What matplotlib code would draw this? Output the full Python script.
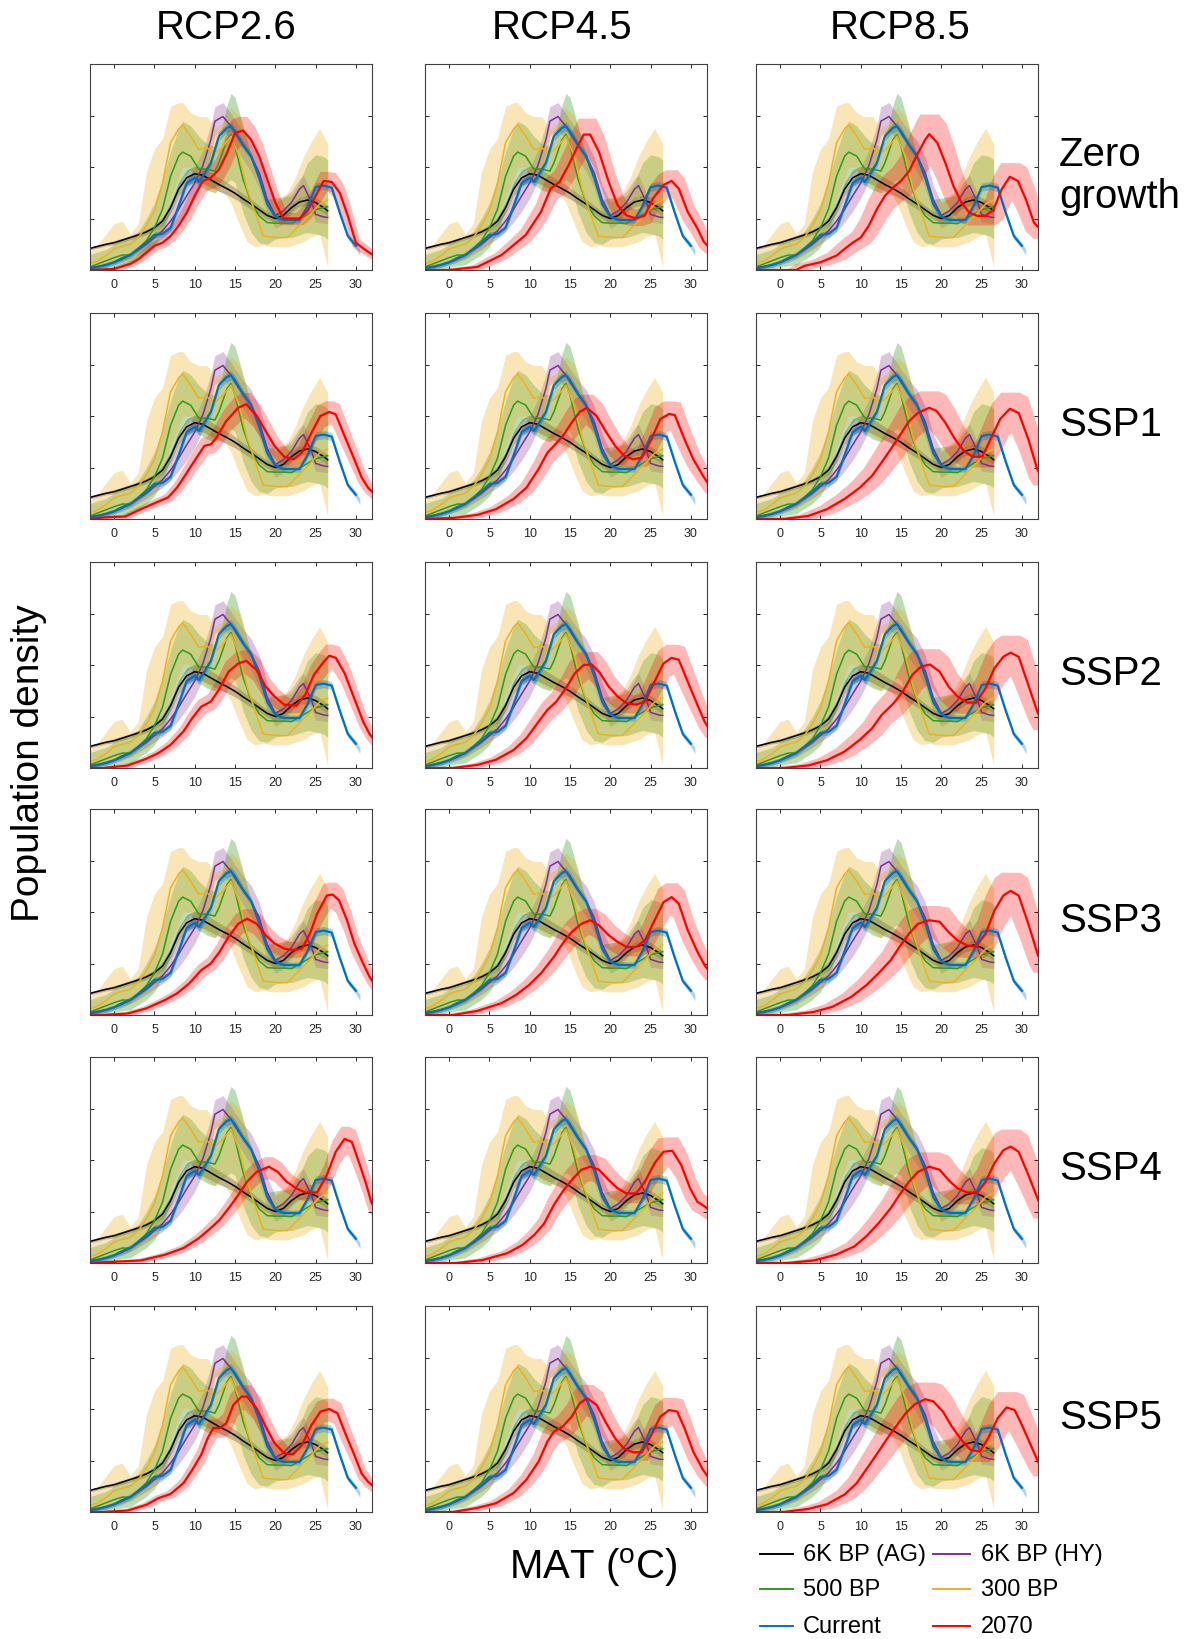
import numpy as np
import matplotlib
matplotlib.use("Agg")
import matplotlib.pyplot as plt
from matplotlib.lines import Line2D

plt.rcParams['font.family'] = ['Liberation Sans', 'DejaVu Sans']
plt.rcParams['mathtext.fontset'] = 'custom'
plt.rcParams['mathtext.rm'] = 'Liberation Sans'

# ---------------- data ----------------
rcps = ["RCP2.6", "RCP4.5", "RCP8.5"]
scenarios = ["Zero\ngrowth", "SSP1", "SSP2", "SSP3", "SSP4", "SSP5"]
xticks = [0, 5, 10, 15, 20, 25, 30]
yticks = [1, 2, 3]

# 6K BP (AG)
ag_x = [-3,-2,-1,0,1,2,3,4,5,6,7,8,9,10,11,12,13,14,15,16,17,18,19,20,21,22,23,24,25,26,26.5]
ag_y = [0.42,0.46,0.50,0.53,0.58,0.63,0.68,0.74,0.82,0.95,1.21,1.57,1.79,1.87,1.84,1.75,1.66,1.58,1.49,1.38,1.28,1.17,1.06,1.00,1.06,1.21,1.32,1.36,1.31,1.21,1.15]
ag_err = [0.03,0.03,0.03,0.04,0.04,0.04,0.05,0.05,0.06,0.08,0.10,0.13,0.15,0.15,0.15,0.14,0.13,0.12,0.11,0.10,0.10,0.08,0.08,0.08,0.08,0.08,0.09,0.10,0.10,0.10,0.10]

# 6K BP (HY)
hy_x = [-3,-2,-1,0,1,2,3,4,5,6,7,8,9,10,11,12,12.5,13.5,14.5,15,16,17,18,19,20,21,22,23,23.5,24.5,25,26,26.5]
hy_y = [0.05,0.07,0.10,0.15,0.21,0.29,0.39,0.50,0.63,0.76,0.95,1.18,1.44,1.69,2.02,2.53,2.89,2.98,2.79,2.66,2.42,2.21,1.89,1.37,1.06,1.15,1.31,1.57,1.64,1.31,1.08,1.03,1.02]
hy_err = [0.04,0.04,0.05,0.05,0.06,0.07,0.08,0.10,0.12,0.15,0.20,0.25,0.30,0.30,0.30,0.28,0.28,0.27,0.25,0.25,0.28,0.30,0.30,0.28,0.25,0.25,0.22,0.20,0.20,0.18,0.15,0.12,0.12]

# 500 BP
bp500_x = [-3,-2,-1,0,1,2,3,4,5,6,7,8,8.5,9.5,10.5,11.5,12.5,13,14,14.5,15,16,17,18,19,20,21,22,23,24,25,26,26.5]
bp500_y = [0.06,0.12,0.18,0.24,0.29,0.29,0.42,0.57,0.82,1.18,1.82,2.21,2.29,2.21,1.96,1.96,1.92,2.08,2.53,2.63,2.40,1.76,1.31,1.05,0.92,0.91,0.91,0.90,0.99,1.08,1.17,1.21,1.23]
bp500_lo = [0.0,0.0,0.02,0.05,0.08,0.10,0.20,0.30,0.45,0.73,1.18,1.60,1.80,1.95,1.65,1.55,1.50,1.60,1.70,1.75,1.70,1.11,0.73,0.53,0.50,0.60,0.63,0.63,0.68,0.73,0.70,0.66,0.60]
bp500_hi = [0.30,0.35,0.40,0.50,0.60,0.60,0.75,1.00,1.30,1.75,2.30,2.75,2.89,2.80,2.60,2.45,2.40,2.50,3.20,3.43,3.35,2.80,2.20,1.70,1.37,1.40,1.42,1.44,1.70,2.08,2.24,2.20,2.14]

# 300 BP
bp300_x = [-3,-2,-1,0,1,2,3,4,5,6,7,8,8.5,9.5,10.5,11.5,12.5,13.5,14.5,15.5,16.5,17.5,18.5,19.5,20.5,21.5,22.5,23.5,24.5,25.5,26.5]
bp300_y = [0.12,0.18,0.28,0.41,0.46,0.50,0.63,0.86,1.15,1.69,2.47,2.74,2.82,2.60,2.34,2.37,2.26,2.40,2.60,2.21,1.57,1.11,0.66,0.64,0.63,0.63,0.79,0.95,1.11,1.28,1.36]
bp300_lo = [0.0,0.02,0.08,0.15,0.18,0.20,0.30,0.42,0.55,0.90,1.40,1.80,2.00,2.00,1.75,1.60,1.50,1.55,1.30,0.90,0.55,0.45,0.48,0.45,0.45,0.45,0.50,0.55,0.65,0.70,0.05]
bp300_hi = [0.35,0.50,0.70,0.90,0.95,0.70,0.90,1.90,2.35,2.55,3.18,3.25,3.25,3.05,2.98,2.98,2.75,2.85,3.15,3.00,2.50,2.00,1.40,1.30,1.40,1.50,1.80,2.20,2.50,2.75,2.45]

# Current
cur_x = [-3,-2,-1,0,1,2,3,4,5,6,7,8,9,10,10.5,11,12,13,14,14.5,15,16,17,18,19,20,21,22,23,24,25,26,27,28,29,30,30.5]
cur_y = [0.03,0.06,0.10,0.15,0.23,0.29,0.41,0.53,0.68,0.70,0.82,1.24,1.69,1.79,1.71,1.82,2.08,2.60,2.76,2.79,2.69,2.43,2.21,1.79,1.28,1.04,0.97,0.97,0.97,1.24,1.61,1.64,1.60,1.11,0.66,0.47,0.34]
cur_err = [0.03,0.03,0.04,0.04,0.05,0.05,0.05,0.06,0.06,0.06,0.07,0.08,0.08,0.08,0.08,0.08,0.08,0.09,0.09,0.09,0.09,0.08,0.08,0.08,0.07,0.06,0.06,0.06,0.06,0.07,0.08,0.08,0.08,0.07,0.06,0.06,0.06]

# 2070 (one curve per RCP column)
red_zero_x = [[-3,0,2,3,4,5,6,7,8,9,10,11,12,13,14,15,16,17,18,19,20,21,22,23,24,25,26,27,28,29,30,31,32.5],
              [-3,0,3.5,6.5,9.5,11.4,12.6,13.7,14.8,16,16.7,17.5,18.6,19.8,20.9,22,23.2,24.3,25.3,26.6,27.6,28.5,29.6,30.8,31.6,32.5],
              [-3,2,3,5,7,8,9,10,11,12,13,14,15,16,17,18,18.5,19.5,20.5,21.5,22.5,23.5,24.5,25.5,26.5,27.5,28.5,29.5,30.5,31.5,32.5]]
red_zero_y = [[0,0.02,0.12,0.21,0.34,0.47,0.53,0.66,0.86,1.11,1.44,1.73,1.79,1.95,2.27,2.66,2.71,2.53,2.21,1.76,1.31,1.0,1.0,1.0,1.15,1.44,1.73,1.71,1.5,1.05,0.53,0.41,0.25],
              [0,0,0.06,0.29,0.68,1.13,1.58,1.71,2.03,2.42,2.63,2.63,2.29,1.71,1.26,1.06,1.0,1.06,1.39,1.65,1.73,1.58,1.13,0.81,0.55,0.4],
              [0,0,0.08,0.15,0.28,0.41,0.53,0.63,0.86,1.18,1.44,1.6,1.73,1.92,2.24,2.53,2.64,2.47,2.08,1.63,1.31,1.11,1.05,1.05,1.18,1.57,1.81,1.73,1.37,0.92,0.75]]

red_ssp1_x = [[-3,-1.3,1.4,3.3,5.2,6.7,7.8,8.9,10.1,11.2,12,12.7,13.9,15.4,16.4,17.7,18.8,19.9,21.1,22.3,23.3,24.5,25.6,26.7,27.5,28.6,29.8,30.7,31.5,32.5],
              [-3,0.5,3.5,5.8,8,9.6,11.1,12.2,13,14.1,15.2,16.2,17.1,18.3,19.4,20.6,21.7,22.8,23.9,25.1,26.2,27.3,28,29.2,30.3,31.5,32.5],
              [-3,0.5,3.5,5.8,8,9.9,11.4,12.6,13.7,14.8,16,17.1,18.5,19.4,20.5,21.7,22.8,23.9,25.1,26.2,27.3,28.5,29.6,30.8,31.9,32.5]]
red_ssp1_y = [[0,0.03,0.05,0.19,0.32,0.42,0.61,0.87,1.16,1.42,1.45,1.58,1.9,2.16,2.23,2.0,1.71,1.42,1.21,1.16,1.29,1.68,2.0,2.08,2.03,1.61,1.16,0.81,0.61,0.45],
              [0,0.02,0.08,0.19,0.39,0.61,0.97,1.29,1.42,1.61,1.87,2.08,2.16,2.0,1.71,1.42,1.23,1.16,1.19,1.55,1.94,2.04,2.02,1.55,1.16,0.84,0.6],
              [0,0,0.06,0.19,0.39,0.61,0.84,1.1,1.35,1.61,1.9,2.06,2.16,2.1,1.87,1.55,1.32,1.21,1.21,1.58,1.94,2.14,2.06,1.55,0.97,0.8]]

red_ssp2_x = [[-3,-1.3,1.7,4,5.5,7,8.6,9.7,10.8,12,13,14.2,15.4,16.4,17.7,18.8,19.9,21.1,22.6,23.7,24.8,26,26.7,27.5,28.6,29.8,30.9,31.7,32.5],
              [-3,0.5,3.5,5.8,8,9.6,11.1,12.2,13.3,14.5,15.6,16.7,17.7,18.6,19.8,20.9,22,23.2,24.3,25.5,26.6,27.6,28.5,29.6,30.8,31.7,32.5],
              [-3,0.5,3.5,5.8,8,9.9,11.4,12.6,14.1,15.2,16.4,17.5,18.6,19.8,20.9,22,23.2,24.3,25.5,26.6,27.7,28.6,29.6,30.8,31.9,32.5]]
red_ssp2_y = [[0,0,0.05,0.18,0.29,0.45,0.71,0.97,1.19,1.29,1.52,1.87,2.03,2.08,1.9,1.58,1.39,1.23,1.21,1.42,1.81,2.06,2.18,2.14,1.84,1.35,0.9,0.66,0.5],
              [0,0,0.06,0.16,0.35,0.58,0.9,1.13,1.29,1.55,1.84,2.0,2.01,1.87,1.58,1.39,1.26,1.23,1.29,1.68,2.03,2.14,2.1,1.68,1.23,0.9,0.7],
              [0,0,0.05,0.15,0.32,0.55,0.77,1.03,1.26,1.48,1.81,1.97,2.01,1.87,1.58,1.39,1.27,1.27,1.55,1.94,2.16,2.24,2.16,1.61,1.1,0.9]]

red_ssp3_x = [[-3,-1.3,1.7,4,6.3,7.8,9.3,10.8,12,13.1,14.2,15.4,16.5,17.7,18.8,19.9,21.1,22.2,23.3,24.3,25.2,26.4,27.1,27.9,28.9,29.8,30.9,31.7,32.5],
              [-3,0.5,3.5,6.5,8.3,9.9,11.4,13,14.1,15.2,16.4,17.5,18.6,19.8,20.9,22,23.2,24.3,25.5,26.6,27.6,28.5,29.6,30.8,31.7,32.5],
              [-3,1,4.2,6.5,8.8,10.7,12.2,13.7,14.8,16,17.1,18.5,19.8,20.9,22,23.2,24.3,25.5,26.6,27.7,28.6,29.6,30.8,32,32.5]]
red_ssp3_y = [[0,0,0.03,0.13,0.29,0.42,0.61,0.87,1.0,1.23,1.52,1.77,1.87,1.77,1.55,1.39,1.29,1.26,1.29,1.58,1.97,2.32,2.34,2.23,1.84,1.39,1.0,0.74,0.55],
              [0,0,0.08,0.23,0.39,0.58,0.81,1.13,1.39,1.61,1.77,1.84,1.74,1.55,1.42,1.32,1.32,1.45,1.84,2.19,2.29,2.16,1.65,1.23,0.97,0.8],
              [0,0,0.06,0.16,0.35,0.58,0.81,1.06,1.32,1.58,1.77,1.84,1.81,1.61,1.45,1.35,1.33,1.58,2.03,2.32,2.41,2.32,1.77,1.16,1.0]]

red_ssp4_x = [[-3,3.3,6.3,8.6,10.5,12,13.1,14.2,15.4,16.5,17.7,19.2,20.3,21.4,22.6,23.7,25.2,26.4,27.5,28.6,29.5,30.5,31.3,31.9,32.5],
              [-3,1,4.2,7.2,9.1,10.6,11.8,13,14.1,15.2,16.4,17.5,18.6,19.8,20.9,22,23.2,24.3,25.5,26.6,27.7,28.8,29.9,30.8,31.7,32.5],
              [-3,1,4.2,6.9,9.2,10.7,12.2,13.7,14.8,16,17.1,18.5,19.8,20.9,22,23.2,24.5,25.5,26.6,27.7,28.6,29.6,30.8,32,32.5]]
red_ssp4_y = [[0,0.05,0.16,0.29,0.48,0.68,0.84,1.06,1.32,1.58,1.77,1.87,1.77,1.58,1.45,1.37,1.37,1.71,2.16,2.41,2.35,1.9,1.52,1.19,1.0],
              [0,0,0.06,0.19,0.35,0.55,0.77,1.13,1.39,1.61,1.81,1.87,1.81,1.61,1.45,1.35,1.35,1.58,1.94,2.16,2.18,1.9,1.45,1.19,1.1,1.0],
              [0,0,0.05,0.16,0.32,0.52,0.77,1.06,1.32,1.58,1.77,1.87,1.81,1.61,1.45,1.37,1.37,1.58,1.94,2.19,2.26,2.16,1.71,1.23,1.05]]

red_ssp5_x = [[-3,-1.3,1.7,4,5.5,7,8.6,9.7,10.8,11.6,12.3,13.1,13.9,14.8,15.8,16.5,17.7,18.8,19.9,21.1,22.2,23.3,24.5,25.6,26.7,27.7,28.6,29.8,30.7,31.5,32.5],
              [-3,0.5,3.5,5.8,8,9.6,11.1,12.2,13,14.1,15.2,16.2,17.1,18.3,19.4,20.6,21.7,22.8,23.9,25.1,26.2,27.3,28.3,29.2,30.3,31.5,32.5],
              [-3,0.5,3.5,5.8,8,9.5,11.1,12.2,13.3,14.5,15.6,16.7,18,19,20.2,21.3,22.5,23.6,24.8,25.8,27,28.1,29.1,30,31.1,32,32.5]]
red_ssp5_y = [[0,0,0.03,0.14,0.27,0.35,0.56,0.82,1.11,1.43,1.63,1.63,1.72,2.08,2.24,2.24,2.01,1.66,1.34,1.14,1.12,1.3,1.69,1.95,2.0,1.92,1.56,1.11,0.75,0.59,0.45],
              [0,0,0.08,0.17,0.37,0.63,0.98,1.37,1.56,1.66,1.85,2.11,2.21,2.08,1.75,1.43,1.23,1.16,1.16,1.5,1.85,1.98,1.95,1.63,1.17,0.82,0.6],
              [0,0,0.06,0.15,0.34,0.56,0.92,1.17,1.43,1.69,1.92,2.09,2.19,2.15,1.95,1.66,1.4,1.21,1.17,1.43,1.82,2.03,1.98,1.69,1.3,0.98,0.85]]

red_x = [red_zero_x, red_ssp1_x, red_ssp2_x, red_ssp3_x, red_ssp4_x, red_ssp5_x]
red_y = [red_zero_y, red_ssp1_y, red_ssp2_y, red_ssp3_y, red_ssp4_y, red_ssp5_y]

legend_labels = ["6K BP (AG)", "6K BP (HY)", "500 BP", "300 BP", "Current", "2070"]

# ---------------- style ----------------
C_AG = "#000000"
C_HY = "#7E2F8E"
C_500 = "#2E9A1E"
C_300 = "#EDB120"
C_CUR = "#0072BD"
C_RED = "#FF0000"
legend_colors = [C_AG, C_HY, C_500, C_300, C_CUR, C_RED]

# temperature / magnitude spread of the 2070 envelope per RCP
red_dx = [0.45, 0.7, 1.1]
red_dk = [0.09, 0.11, 0.14]

W, H = 1192, 1640
fig = plt.figure(figsize=(W / 100, H / 100), dpi=100)

col_left = [90, 425, 756]
row_top = [65, 314, 563, 810, 1058, 1307]
pw, ph = 282, 206


def red_band(xs, ys, dx, dk):
    xf = np.linspace(-4, 33, 800)
    shifts = np.linspace(-dx, dx, 11)
    stack = np.array([np.interp(xf - s, xs, ys) for s in shifts])
    lo = stack.min(axis=0)
    hi = stack.max(axis=0)
    lo = np.clip(lo - (0.03 + dk * lo), 0, None)
    hi = hi + 0.03 + dk * hi
    return xf, lo, hi


def ab(a):
    return np.asarray(a, dtype=float)


for r in range(6):
    for c in range(3):
        ax = fig.add_axes([col_left[c] / W, 1 - (row_top[r] + ph) / H, pw / W, ph / H])
        # each series: band then line (later bands tint earlier lines)
        ax.fill_between(ag_x, ab(ag_y) - ab(ag_err), ab(ag_y) + ab(ag_err), color=C_AG, alpha=0.3, lw=0)
        ax.plot(ag_x, ag_y, color=C_AG, lw=1.1)
        ax.fill_between(hy_x, ab(hy_y) - ab(hy_err), ab(hy_y) + ab(hy_err), color=C_HY, alpha=0.28, lw=0)
        ax.plot(hy_x, hy_y, color=C_HY, lw=1.1)
        ax.fill_between(bp500_x, bp500_lo, bp500_hi, color=C_500, alpha=0.33, lw=0)
        ax.plot(bp500_x, bp500_y, color=C_500, lw=1.1)
        ax.fill_between(bp300_x, bp300_lo, bp300_hi, color=C_300, alpha=0.33, lw=0)
        ax.plot(bp300_x, bp300_y, color=C_300, lw=1.1)
        ax.fill_between(cur_x, ab(cur_y) - ab(cur_err), ab(cur_y) + ab(cur_err), color=C_CUR, alpha=0.3, lw=0)
        ax.plot(cur_x[:-1], cur_y[:-1], color=C_CUR, lw=1.6)
        xf, lo, hi = red_band(red_x[r][c], red_y[r][c], red_dx[c], red_dk[c])
        ax.fill_between(xf, lo, hi, color=C_RED, alpha=0.28, lw=0)
        ax.plot(red_x[r][c], red_y[r][c], color=C_RED, lw=1.6)

        ax.set_xlim(-3, 32)
        ax.set_ylim(0, 4)
        ax.set_xticks(xticks)
        ax.set_yticks(yticks)
        ax.set_yticklabels([])
        ax.tick_params(direction="in", length=3, width=0.7, top=True, right=True,
                       labelsize=9, colors="#262626", pad=6)
        for sp in ax.spines.values():
            sp.set_color("#404040")
            sp.set_linewidth(0.8)

# column titles
title_x = [226, 562, 900]
for c in range(3):
    fig.text(title_x[c] / W, 1 - 28 / H, rcps[c], ha="center", va="center", fontsize=29)

# row labels
for r in range(6):
    yc = row_top[r] + ph / 2 + 8
    fig.text(1059 / W, 1 - yc / H, scenarios[r], ha="left", va="center", fontsize=29,
             linespacing=1.15)

fig.text(29 / W, 1 - 763 / H, "Population density", rotation=90, ha="center", va="center", fontsize=28)
fig.text(593 / W, 1 - 1568 / H, r"MAT ($^{\rm o}$C)", ha="center", va="center", fontsize=29)

# legend (manual, two columns)
leg_line_x = [(760, 793), (933, 970)]
leg_text_x = [803, 981]
leg_row_y = [1555, 1590, 1627]
for i, (lab, col) in enumerate(zip(legend_labels, legend_colors)):
    rr, cc = i // 2, i % 2
    y = 1 - leg_row_y[rr] / H
    fig.add_artist(Line2D([leg_line_x[cc][0] / W, leg_line_x[cc][1] / W], [y, y],
                          color=col, lw=1.4, transform=fig.transFigure))
    fig.text(leg_text_x[cc] / W, y, lab, ha="left", va="center", fontsize=17)

fig.savefig("out.png", dpi=100)
